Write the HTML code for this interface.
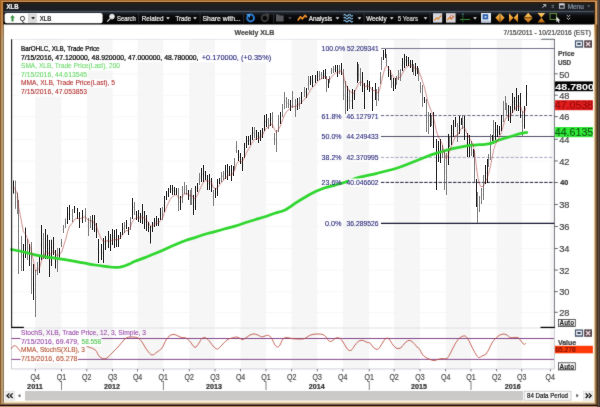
<!DOCTYPE html>
<html><head><meta charset="utf-8"><title>XLB</title>
<style>html,body{margin:0;padding:0;background:#fff;}svg{display:block;font-family:"Liberation Sans", sans-serif;}</style>
</head><body>
<svg width="600" height="407" viewBox="0 0 600 407">
<defs>
<filter id="soft" x="0" y="0" width="100%" height="100%" filterUnits="userSpaceOnUse" color-interpolation-filters="sRGB"><feConvolveMatrix order="3" kernelMatrix="0.015 0.065 0.015 0.065 0.68 0.065 0.015 0.065 0.015" divisor="1" edgeMode="duplicate" preserveAlpha="false"/></filter>
<linearGradient id="gold" x1="0" y1="0" x2="0" y2="1"><stop offset="0" stop-color="#ffd070"/><stop offset="0.5" stop-color="#f0a030"/><stop offset="1" stop-color="#b06010"/></linearGradient>
<linearGradient id="og" x1="0" y1="0" x2="0" y2="1"><stop offset="0" stop-color="#c06810" stop-opacity="0.6"/><stop offset="0.6" stop-color="#c06810" stop-opacity="0.35"/><stop offset="1" stop-color="#c06810" stop-opacity="0"/></linearGradient>
<linearGradient id="tb" x1="0" y1="0" x2="0" y2="1"><stop offset="0" stop-color="#28303a"/><stop offset="0.3" stop-color="#0c0c0e"/><stop offset="1" stop-color="#000"/></linearGradient>
</defs>

<g filter="url(#soft)">
<rect x="0" y="0" width="600" height="407" fill="#ffffff"/>
<rect x="0" y="0" width="600" height="1" fill="#a8682a"/>
<rect x="0" y="1" width="600" height="1" fill="#c89460"/>
<rect x="0" y="2" width="600" height="1" fill="#2a1000"/>
<rect x="3" y="3" width="592" height="8" fill="#1c1e22"/>
<rect x="3" y="3" width="592" height="1" fill="#2a2418"/>
<rect x="3" y="10.6" width="592" height="1.2" fill="#2e3a48"/>
<rect x="3" y="11.8" width="592" height="12.7" fill="url(#tb)"/>
<rect x="0" y="0" width="1" height="407" fill="#87592b"/>
<rect x="1" y="0" width="1" height="407" fill="#b9956b"/>
<rect x="2" y="1" width="1" height="406" fill="#bc9c76"/>
<rect x="3" y="2" width="1" height="403" fill="#8c7860"/>
<rect x="3" y="2" width="1" height="22.5" fill="#3a2010"/>
<rect x="4" y="24.5" width="1" height="377" fill="#fffef5"/>
<rect x="593" y="24.5" width="1" height="377" fill="#fffbe8"/>
<rect x="594" y="2" width="1" height="403" fill="#e0c398"/>
<rect x="595" y="1" width="1" height="405" fill="#a08058"/>
<rect x="596" y="0" width="1" height="407" fill="#725230"/>
<rect x="597" y="0" width="1" height="407" fill="#483418"/>
<rect x="598" y="0" width="1" height="407" fill="#5a4a40"/>
<rect x="599" y="0" width="1" height="407" fill="#443830"/>
<rect x="4" y="401" width="590" height="1.5" fill="#fff0d0"/>
<rect x="3" y="402.5" width="592" height="1" fill="#d0b888"/>
<rect x="2" y="403.3" width="594" height="1" fill="#a48c60"/>
<rect x="1" y="404.2" width="596" height="0.8" fill="#604030"/>
<rect x="0" y="405" width="597" height="1" fill="#200000"/>
<rect x="0" y="406" width="597" height="1" fill="#b89870"/>
<rect x="0" y="0" width="3" height="40" fill="url(#og)"/>
<rect x="594" y="0" width="3" height="40" fill="url(#og)"/>
<rect x="594" y="2" width="1" height="22.5" fill="#3a2010"/>
<rect x="595" y="1.5" width="1" height="23" fill="#c08848"/>
<rect x="596" y="1" width="1" height="23.5" fill="#d4a464"/>
<rect x="597" y="0" width="1" height="24.5" fill="#6a5040"/>
<rect x="0" y="0" width="596" height="1" fill="#a8682a"/>
<rect x="1" y="1" width="595" height="1" fill="#c89460"/>
<text x="6.60" y="9.40" font-size="7.5" fill="#ffffff" textLength="11.90" lengthAdjust="spacingAndGlyphs" font-weight="bold" stroke="#ffffff" stroke-width="0.22" >XLB</text>
<path d="M543,4.2 h3.2 v2.6 h-1 v-1.2 l-2.6,2.4 l-0.5,-0.5 l2.4,-2.4 h-1.5z" fill="#c8ccd4"/>
<rect x="551.6" y="5" width="2.4" height="0.8" fill="#8890a0"/><rect x="551.6" y="6.8" width="2.4" height="0.8" fill="#8890a0"/>
<rect x="559.4" y="3.8" width="4.8" height="4.4" fill="none" stroke="#d0d4dc" stroke-width="0.9"/><rect x="559.4" y="3.8" width="4.8" height="1.6" fill="#d0d4dc"/>
<text x="567.70" y="8.60" font-size="6.6" fill="#8896a8" textLength="16.00" lengthAdjust="spacingAndGlyphs" stroke="#8896a8" stroke-width="0.22" >Menu</text>
<path d="M587,5.3 h3.4 l-1.7,2.2z" fill="#5c6878"/>
<rect x="4.6" y="13" width="98" height="10.2" rx="2.2" fill="#ffffff"/>
<path d="M12.5,14.9 l2.3,2.9 h-1.3 v3.6 h-2 v-3.6 h-1.3z" fill="#2f8f3c"/>
<text x="19.90" y="20.50" font-size="7.2" fill="#000" textLength="5.00" lengthAdjust="spacingAndGlyphs" stroke="#000" stroke-width="0.15">Q</text>
<rect x="28.3" y="13.6" width="0.6" height="9" fill="#b0b0b0"/>
<rect x="29.6" y="14" width="7" height="8.4" fill="#dcdcdc" stroke="#b8b8b8" stroke-width="0.4"/>
<path d="M31.2,17 h3.8 l-1.9,2.6z" fill="#202020"/>
<text x="39.80" y="20.90" font-size="7" fill="#000" textLength="11.50" lengthAdjust="spacingAndGlyphs" stroke="#000" stroke-width="0.2">XLB</text>
<circle cx="112" cy="16.6" r="2.4" fill="#e8e8e8" stroke="#fff" stroke-width="0.7"/><path d="M110.2,18.6 l-3,3" stroke="#e0e0e0" stroke-width="1.3"/>
<text x="117.00" y="20.70" font-size="7" fill="#f0f0f0" textLength="18.80" lengthAdjust="spacingAndGlyphs" stroke="#f0f0f0" stroke-width="0.22" >Search</text>
<rect x="138.4" y="13.3" width="0.7" height="9.6" fill="#3c4046"/>
<text x="141.70" y="20.70" font-size="7" fill="#f0f0f0" textLength="21.80" lengthAdjust="spacingAndGlyphs" stroke="#f0f0f0" stroke-width="0.22" >Related</text>
<path d="M166.1,17.2 h3.8 l-1.9,2.3z" fill="#e8e8e8"/>
<text x="175.50" y="20.70" font-size="7" fill="#f0f0f0" textLength="15.50" lengthAdjust="spacingAndGlyphs" stroke="#f0f0f0" stroke-width="0.22" >Trade</text>
<path d="M193.1,17.2 h3.8 l-1.9,2.3z" fill="#e8e8e8"/>
<rect x="199.7" y="13.3" width="0.7" height="9.6" fill="#3c4046"/>
<text x="202.50" y="20.70" font-size="7" fill="#f0f0f0" textLength="38.20" lengthAdjust="spacingAndGlyphs" stroke="#f0f0f0" stroke-width="0.22" >Share with...</text>
<rect x="243.4" y="13.3" width="0.7" height="9.6" fill="#3c4046"/>
<circle cx="250.6" cy="18" r="3.4" fill="none" stroke="#2a7ad0" stroke-width="2"/><path d="M246,14 h4 v4z" fill="#4aa0f0"/>
<circle cx="264.8" cy="18" r="3.2" fill="none" stroke="#3a3a3a" stroke-width="1.9"/><path d="M265,13.5 h4 v4z" fill="#444"/>
<rect x="273.4" y="13.3" width="0.7" height="9.6" fill="#3c4046"/>
<path d="M276,14.6 h3 l0.8,1 h3.8 v6 h-7.6z" fill="#56585c"/>
<path d="M288.1,17.2 h3.8 l-1.9,2.3z" fill="#50545a"/>
<path d="M297.8,20.4 l2.6,-3.6 l2,2 l2.6,-3.4 l1.8,2" fill="none" stroke="#f0902c" stroke-width="1.7" stroke-linejoin="round"/>
<text x="308.70" y="20.70" font-size="7" fill="#f0f0f0" textLength="23.60" lengthAdjust="spacingAndGlyphs" stroke="#f0f0f0" stroke-width="0.22" >Analysis</text>
<path d="M335.6,17.2 h3.8 l-1.9,2.3z" fill="#e8e8e8"/>
<path d="M343.6,15.3 q1.2,-1.6 2.3,0 t2.3,0 t2.3,0 t2.3,0" fill="none" stroke="#8cc8f4" stroke-width="1.1"/>
<path d="M343.6,18.2 q1.2,-1.6 2.3,0 t2.3,0 t2.3,0 t2.3,0" fill="none" stroke="#8cc8f4" stroke-width="1.1"/>
<path d="M343.6,21.1 q1.2,-1.6 2.3,0 t2.3,0 t2.3,0 t2.3,0" fill="none" stroke="#8cc8f4" stroke-width="1.1"/>
<path d="M357.6,17.2 h3.8 l-1.9,2.3z" fill="#e8e8e8"/>
<rect x="363.7" y="13.3" width="0.7" height="9.6" fill="#3c4046"/>
<text x="366.20" y="20.70" font-size="7" fill="#f0f0f0" textLength="20.40" lengthAdjust="spacingAndGlyphs" stroke="#f0f0f0" stroke-width="0.22" >Weekly</text>
<path d="M389.8,17.2 h3.8 l-1.9,2.3z" fill="#e8e8e8"/>
<text x="397.70" y="20.70" font-size="7" fill="#d8d8d8" textLength="20.40" lengthAdjust="spacingAndGlyphs" stroke="#d8d8d8" stroke-width="0.22" >5 Years</text>
<path d="M423.6,17.2 h3.8 l-1.9,2.3z" fill="#e8e8e8"/>
<rect x="429.7" y="13.3" width="0.7" height="9.6" fill="#3c4046"/>
<rect x="433" y="13.2" width="9.2" height="9.4" fill="#d4d6e0"/><path d="M434.2,20.6 l2.4,-2.8 l1.6,1.4 l3,-3.8" fill="none" stroke="#e08828" stroke-width="1.2"/>
<rect x="446" y="13.2" width="9.6" height="9.4" fill="#d8d4d8"/><path d="M447.2,20 l2.4,-2.4 l1.6,1.6 l3,-3.6" fill="none" stroke="#e08828" stroke-width="1.1"/><circle cx="451.6" cy="17" r="1.5" fill="none" stroke="#c05050" stroke-width="0.6"/>
<rect x="460" y="19" width="10" height="0.9" fill="#40a040"/><rect x="462.4" y="13.4" width="0.9" height="9" fill="#2a6a2a"/><rect x="462" y="13.6" width="2" height="0.8" fill="#5080c0"/>
<path d="M473.1,17.2 h3.8 l-1.9,2.3z" fill="#e8e8e8"/>
<rect x="481" y="13" width="10" height="9.6" fill="#e8ecf4"/><rect x="482.6" y="14.2" width="5.6" height="5.2" fill="#2a62b0"/><rect x="484.6" y="16" width="1.8" height="1.6" fill="#e8ecf4"/><rect x="481" y="20.6" width="10" height="2" fill="#b8c4d8"/>
<path d="M495.4,17.8 l4.3,-4.6 v9.2z M504.6,17.8 l-4.3,-4.6 v9.2z" fill="url(#gold)"/>
<path d="M509,13.2 l4.4,4.6 l-4.4,4.6z M518,13.2 l-4.4,4.6 l4.4,4.6z" fill="url(#gold)"/>
<path d="M528.2,12.8 l4.4,4.6 h-8.8z M528.2,22.8 l4.4,-4.6 h-8.8z" fill="url(#gold)"/>
<path d="M537.6,13 h7.6 l-3.8,4.8z M537.6,22.6 h7.6 l-3.8,-4.8z" fill="url(#gold)"/>
<rect x="550" y="13.4" width="6.4" height="6" fill="none" stroke="#6a9a3a" stroke-width="0.9"/>
<path d="M556.4,16.6 l0,5.6 l1.3,-1.3 l1,2 l0.9,-0.5 l-1,-1.9 h1.8z" fill="#e8e8e8"/>
<path d="M566.8,15 l1.7,1.7 l1.7,-1.7 M566.8,17.8 l1.7,1.7 l1.7,-1.7" fill="none" stroke="#e0e0e0" stroke-width="0.9"/>
<rect x="35.3" y="39.3" width="26.1" height="329.7" fill="#f6f6f6"/>
<rect x="86.8" y="39.3" width="25.8" height="329.7" fill="#f6f6f6"/>
<rect x="137.6" y="39.3" width="25.7" height="329.7" fill="#f6f6f6"/>
<rect x="189.3" y="39.3" width="25.7" height="329.7" fill="#f6f6f6"/>
<rect x="240.6" y="39.3" width="25.4" height="329.7" fill="#f6f6f6"/>
<rect x="291.7" y="39.3" width="25.6" height="329.7" fill="#f6f6f6"/>
<rect x="342.8" y="39.3" width="26.4" height="329.7" fill="#f6f6f6"/>
<rect x="394.1" y="39.3" width="25.9" height="329.7" fill="#f6f6f6"/>
<rect x="445.7" y="39.3" width="25.3" height="329.7" fill="#f6f6f6"/>
<rect x="496.7" y="39.3" width="25.1" height="329.7" fill="#f6f6f6"/>
<rect x="550.3" y="39.3" width="3.7" height="329.7" fill="#f6f6f6"/>
<rect x="11.4" y="73.6" width="543.0" height="0.8" fill="#f5f5f6"/>
<rect x="11.4" y="94.9" width="543.0" height="0.8" fill="#f5f5f6"/>
<rect x="11.4" y="116.4" width="543.0" height="0.8" fill="#f5f5f6"/>
<rect x="11.4" y="139.0" width="543.0" height="0.8" fill="#f5f5f6"/>
<rect x="11.4" y="160.7" width="543.0" height="0.8" fill="#f5f5f6"/>
<rect x="11.4" y="182.2" width="543.0" height="0.8" fill="#f5f5f6"/>
<rect x="11.4" y="204.2" width="543.0" height="0.8" fill="#f5f5f6"/>
<rect x="11.4" y="226.2" width="543.0" height="0.8" fill="#f5f5f6"/>
<rect x="11.4" y="248.2" width="543.0" height="0.8" fill="#f5f5f6"/>
<rect x="11.4" y="269.8" width="543.0" height="0.8" fill="#f5f5f6"/>
<rect x="11.4" y="291.4" width="543.0" height="0.8" fill="#f5f5f6"/>
<rect x="11.4" y="312.0" width="543.0" height="0.8" fill="#f5f5f6"/>
<rect x="11.4" y="38.9" width="543.0" height="0.9" fill="#e2e4ea"/>
<rect x="553.9499999999999" y="39.0" width="0.9" height="288.2" fill="#686c72"/>
<rect x="553.9499999999999" y="327.5" width="0.9" height="41.5" fill="#c4c8d0"/>
<rect x="541.3" y="38.8" width="13.4" height="0.9" fill="#585c62"/>
<rect x="11.4" y="327.6" width="543.0" height="0.8" fill="#d8dce4"/>
<rect x="11.0" y="328" width="0.9" height="41" fill="#c4c8d0"/>
<rect x="11.4" y="368.5" width="543.0" height="0.9" fill="#c8ccd4"/>
<path d="M381,48.5 H554.4" stroke="#74748e" stroke-width="1.0" fill="none"/>
<path d="M381,115.5 H554.4" stroke="#68688a" stroke-width="1.0" stroke-dasharray="3.1,1.7" fill="none"/>
<path d="M381,136.5 H554.4" stroke="#505068" stroke-width="1.0" fill="none"/>
<path d="M381,157.4 H554.4" stroke="#a4a4c0" stroke-width="1.0" stroke-dasharray="3.1,1.7" fill="none"/>
<path d="M381,182.4 H554.4" stroke="#101030" stroke-width="0.95" stroke-dasharray="3.4,1.4" fill="none"/>
<path d="M381,223.4 H554.4" stroke="#141430" stroke-width="1.25" fill="none"/>
</g>
<path d="M13.5,180.5V193.6M23.5,244.0V271.0M25.5,227.6V258.0M29.5,244.0V266.0M33.5,264.0V300.0M39.5,256.0V273.0M41.5,225.0V260.0M45.5,229.0V259.0M47.5,234.7V259.0M49.5,240.0V277.0M51.5,239.7V266.0M53.5,237.0V255.0M55.5,250.0V268.5M59.5,248.0V257.5M67.5,207.0V224.0M69.5,205.0V220.0M74.5,206.0V213.0M77.5,208.0V219.0M79.5,212.0V228.0M82.5,210.0V223.0M92.5,215.0V230.0M94.5,215.0V232.0M96.5,223.0V238.0M98.5,239.0V263.0M101.5,244.0V260.0M103.5,238.0V263.0M105.5,236.0V250.0M108.5,231.0V248.0M110.5,234.0V251.0M112.5,229.0V245.0M114.5,230.0V248.0M116.5,229.0V247.0M118.5,235.0V247.0M120.5,232.0V239.0M122.5,223.0V235.0M126.5,220.0V229.0M128.5,227.0V235.0M132.5,198.0V219.0M136.5,211.0V220.0M138.5,210.0V222.0M140.5,213.0V223.0M142.5,204.0V224.0M144.5,211.0V229.0M146.5,215.0V231.0M148.5,222.0V232.0M150.5,226.0V243.5M152.5,222.0V232.0M154.5,218.0V227.0M156.5,216.0V226.0M158.5,218.0V226.0M160.5,208.0V220.0M164.5,196.0V212.0M166.5,191.0V200.0M168.5,188.0V197.0M170.5,185.0V193.0M172.5,185.0V195.0M174.5,187.0V195.0M176.5,188.0V195.0M180.5,196.0V210.0M188.5,190.0V200.0M193.5,195.0V215.0M195.5,186.0V210.0M197.5,183.0V192.0M201.5,168.0V182.0M203.5,165.0V182.0M205.5,171.0V180.0M207.5,175.0V190.0M209.5,174.0V190.0M211.5,178.0V192.0M215.5,188.0V198.0M217.5,179.0V196.0M219.5,178.0V184.0M225.5,165.0V179.0M227.5,164.0V180.0M229.5,166.0V176.0M231.5,165.0V181.0M233.5,166.0V176.0M238.5,150.0V161.0M240.5,153.0V164.0M242.5,157.0V171.0M244.5,143.0V158.0M246.5,136.0V148.0M248.5,136.0V145.0M250.5,135.0V145.0M252.5,127.0V140.0M256.5,130.0V140.0M258.5,132.0V143.0M260.5,130.0V141.0M262.5,128.0V138.0M264.5,115.0V131.0M266.5,114.0V127.0M270.5,113.0V126.0M280.5,112.0V124.0M290.5,100.0V111.0M297.5,98.0V110.0M301.5,92.0V104.0M306.5,88.0V98.0M310.5,76.0V85.0M312.5,75.0V87.0M315.5,75.0V83.0M317.5,71.0V81.0M323.5,70.0V79.0M325.5,69.0V79.0M328.5,79.0V88.0M335.5,65.0V72.0M337.5,65.0V77.0M341.5,63.0V75.0M347.5,86.0V111.0M352.5,89.0V109.0M354.5,90.0V100.0M357.5,62.0V83.0M362.5,72.0V92.0M364.5,83.0V109.0M367.5,80.0V90.0M369.5,81.0V92.0M372.5,87.0V111.0M375.5,83.0V100.0M383.5,50.0V60.0M385.5,49.0V58.0M388.5,66.0V77.0M390.5,70.0V80.0M393.5,78.0V91.0M395.5,78.0V89.0M402.5,58.0V71.0M404.5,54.0V68.0M406.5,56.0V66.0M408.5,57.0V66.0M410.5,60.0V68.0M412.5,60.0V72.0M415.5,63.0V76.0M417.5,66.0V74.0M424.5,97.0V103.0M430.5,113.0V127.0M433.5,112.0V148.0M436.5,139.0V190.0M438.5,141.0V162.0M440.5,139.0V163.0M448.5,134.0V165.0M451.5,125.0V145.0M453.5,120.0V137.0M455.5,117.0V127.0M459.5,116.0V134.0M461.5,118.0V125.0M464.5,116.0V140.0M467.5,133.0V157.0M469.5,135.0V157.0M473.5,149.0V157.0M476.5,179.0V207.0M485.5,165.0V184.0M487.5,159.0V183.0M492.5,135.0V141.0M495.5,122.0V140.0M497.5,125.0V137.0M499.5,126.0V135.0M501.5,115.0V131.0M508.5,105.0V121.0M510.5,106.0V123.0M512.5,93.0V113.0M514.5,97.0V110.0M516.5,88.0V111.0M518.5,95.0V111.0M520.5,93.0V118.0M524.5,106.0V128.8M526.5,85.0V106.0" stroke="#000" stroke-width="0.86" fill="none"/>
<path d="M15.5,180.5V208.8M17.5,192.6V214.0M18.5,200.0V274.0M21.5,236.0V271.0M27.5,239.0V260.0M31.5,242.0V294.0M35.5,270.0V317.0M37.5,262.0V275.0M43.5,233.0V259.0M57.5,248.0V272.0M61.5,239.0V247.0M63.5,225.0V233.0M65.5,218.5V228.0M72.5,209.0V222.0M85.5,208.0V222.0M88.5,218.0V236.0M90.5,216.0V228.0M124.5,222.0V233.0M130.5,217.0V230.0M134.5,202.0V215.0M162.5,207.0V220.0M178.5,188.0V211.0M182.5,186.0V203.0M184.5,182.0V194.0M186.5,185.0V195.0M190.5,190.0V205.0M191.5,188.0V205.0M199.5,173.0V185.0M213.5,190.0V206.0M221.5,172.0V182.0M223.5,171.0V180.0M234.5,158.0V170.0M236.5,141.0V153.0M254.5,127.0V138.0M268.5,118.0V129.0M272.5,112.0V128.0M274.5,133.0V145.0M276.5,130.0V152.0M278.5,115.0V132.0M282.5,104.0V117.0M284.5,92.0V109.0M286.5,97.0V108.0M288.5,99.0V108.0M292.5,91.0V108.0M295.5,99.0V117.0M299.5,97.0V109.0M304.5,87.0V97.0M308.5,76.0V90.0M319.5,71.0V80.0M321.5,72.0V79.0M326.5,76.0V92.0M329.5,76.0V83.0M331.5,68.0V74.0M333.5,66.0V73.0M339.5,65.0V74.0M343.5,69.0V100.0M345.5,81.0V114.0M349.5,90.0V109.0M358.5,64.0V81.0M360.5,68.0V86.0M376.5,89.0V106.0M378.5,87.0V101.0M380.5,72.0V84.0M381.5,57.0V70.0M386.5,54.0V66.0M391.5,75.0V88.0M396.5,76.0V85.0M398.5,70.0V80.0M400.5,69.0V81.0M413.5,64.0V75.0M418.5,68.0V81.0M420.5,82.0V93.0M422.5,85.0V107.0M426.5,99.0V132.0M428.5,112.0V134.0M431.5,115.0V126.0M442.5,145.0V158.0M444.5,150.0V190.0M446.5,153.0V195.0M449.5,136.0V147.0M457.5,123.0V142.0M462.5,115.0V129.0M471.5,141.0V156.0M474.5,150.0V183.0M477.5,192.0V223.0M479.5,196.0V212.0M481.5,188.0V204.0M483.5,175.0V200.0M488.5,154.0V167.0M490.5,134.0V160.0M493.5,120.0V144.0M503.5,101.0V122.0M505.5,96.0V110.0M506.5,103.0V116.0M522.5,111.0V136.0" stroke="#6c6c6c" stroke-width="0.86" fill="none"/>
<g filter="url(#soft)">
<path d="M14.0,187.1h0.6M13.0,187.1h-0.6M16.0,196.9h0.6M15.0,192.4h-0.6M18.0,205.0h0.6M17.0,201.6h-0.6M19.0,242.9h0.6M18.0,231.1h-0.6M22.0,256.3h0.6M21.0,250.7h-0.6M24.0,259.7h0.6M23.0,255.3h-0.6M26.0,240.4h0.6M25.0,245.2h-0.6M28.0,251.2h0.6M27.0,247.8h-0.6M30.0,256.8h0.6M29.0,253.2h-0.6M32.0,272.2h0.6M31.0,263.8h-0.6M34.0,284.9h0.6M33.0,279.1h-0.6M36.0,297.3h0.6M35.0,289.7h-0.6M38.0,267.5h0.6M37.0,269.5h-0.6M40.0,263.1h0.6M39.0,265.9h-0.6M42.0,239.7h0.6M41.0,245.3h-0.6M44.0,248.1h0.6M43.0,243.9h-0.6M46.0,241.6h0.6M45.0,246.4h-0.6M48.0,248.8h0.6M47.0,244.9h-0.6M50.0,261.5h0.6M49.0,255.5h-0.6M52.0,250.7h0.6M51.0,255.0h-0.6M54.0,244.6h0.6M53.0,247.4h-0.6M56.0,260.7h0.6M55.0,257.8h-0.6M58.0,261.9h0.6M57.0,258.1h-0.6M60.0,252.0h0.6M59.0,253.5h-0.6M62.0,242.4h0.6M61.0,243.6h-0.6M64.0,228.4h0.6M63.0,229.6h-0.6M66.0,222.5h0.6M65.0,224.0h-0.6M68.0,214.1h0.6M67.0,216.9h-0.6M70.0,211.3h0.6M69.0,213.7h-0.6M73.0,216.5h0.6M72.0,214.5h-0.6M75.0,208.9h0.6M74.0,210.1h-0.6M78.0,214.4h0.6M77.0,212.6h-0.6M80.0,221.3h0.6M79.0,218.7h-0.6M83.0,215.5h0.6M82.0,217.5h-0.6M86.0,213.9h0.6M85.0,216.1h-0.6M89.0,228.4h0.6M88.0,225.6h-0.6M91.0,221.0h0.6M90.0,223.0h-0.6M93.0,223.7h0.6M92.0,221.3h-0.6M95.0,224.9h0.6M94.0,222.1h-0.6M97.0,231.7h0.6M96.0,229.3h-0.6M99.0,252.9h0.6M98.0,249.1h-0.6M102.0,253.3h0.6M101.0,250.7h-0.6M104.0,248.5h0.6M103.0,252.5h-0.6M106.0,241.9h0.6M105.0,244.1h-0.6M109.0,238.1h0.6M108.0,240.9h-0.6M111.0,243.9h0.6M110.0,241.1h-0.6M113.0,235.7h0.6M112.0,238.3h-0.6M115.0,240.4h0.6M114.0,237.6h-0.6M117.0,236.6h0.6M116.0,239.4h-0.6M119.0,242.0h0.6M118.0,240.0h-0.6M121.0,234.9h0.6M120.0,236.1h-0.6M123.0,228.0h0.6M122.0,230.0h-0.6M125.0,226.6h0.6M124.0,228.4h-0.6M127.0,223.8h0.6M126.0,225.2h-0.6M129.0,231.6h0.6M128.0,230.4h-0.6M131.0,222.5h0.6M130.0,224.5h-0.6M133.0,206.8h0.6M132.0,210.2h-0.6M135.0,209.5h0.6M134.0,207.5h-0.6M137.0,216.2h0.6M136.0,214.8h-0.6M139.0,217.0h0.6M138.0,215.0h-0.6M141.0,218.8h0.6M140.0,217.2h-0.6M143.0,212.4h0.6M142.0,215.6h-0.6M145.0,221.4h0.6M144.0,218.6h-0.6M147.0,224.3h0.6M146.0,221.7h-0.6M149.0,227.8h0.6M148.0,226.2h-0.6M151.0,236.2h0.6M150.0,233.3h-0.6M153.0,226.2h0.6M152.0,227.8h-0.6M155.0,221.8h0.6M154.0,223.2h-0.6M157.0,220.2h0.6M156.0,221.8h-0.6M159.0,222.6h0.6M158.0,221.4h-0.6M161.0,213.0h0.6M160.0,215.0h-0.6M163.0,212.5h0.6M162.0,214.5h-0.6M165.0,202.7h0.6M164.0,205.3h-0.6M167.0,194.8h0.6M166.0,196.2h-0.6M169.0,191.8h0.6M168.0,193.2h-0.6M171.0,188.4h0.6M170.0,189.6h-0.6M173.0,190.8h0.6M172.0,189.2h-0.6M175.0,191.6h0.6M174.0,190.4h-0.6M177.0,192.1h0.6M176.0,190.9h-0.6M179.0,201.3h0.6M178.0,197.7h-0.6M181.0,204.1h0.6M180.0,201.9h-0.6M183.0,193.1h0.6M182.0,195.9h-0.6M185.0,187.0h0.6M184.0,189.0h-0.6M187.0,190.8h0.6M186.0,189.2h-0.6M189.0,195.8h0.6M188.0,194.2h-0.6M191.0,198.7h0.6M190.0,196.3h-0.6M192.0,195.1h0.6M191.0,197.9h-0.6M194.0,206.6h0.6M193.0,203.4h-0.6M196.0,196.1h0.6M195.0,199.9h-0.6M198.0,186.8h0.6M197.0,188.2h-0.6M200.0,178.0h0.6M199.0,180.0h-0.6M202.0,173.9h0.6M201.0,176.1h-0.6M204.0,172.1h0.6M203.0,174.9h-0.6M206.0,176.2h0.6M205.0,174.8h-0.6M208.0,183.7h0.6M207.0,181.3h-0.6M210.0,180.7h0.6M209.0,183.3h-0.6M212.0,186.1h0.6M211.0,183.9h-0.6M214.0,199.3h0.6M213.0,196.7h-0.6M216.0,192.2h0.6M215.0,193.8h-0.6M218.0,186.1h0.6M217.0,188.9h-0.6M220.0,180.5h0.6M219.0,181.5h-0.6M222.0,176.2h0.6M221.0,177.8h-0.6M224.0,174.8h0.6M223.0,176.2h-0.6M226.0,170.9h0.6M225.0,173.1h-0.6M228.0,173.3h0.6M227.0,170.7h-0.6M230.0,170.2h0.6M229.0,171.8h-0.6M232.0,174.3h0.6M231.0,171.7h-0.6M234.0,170.2h0.6M233.0,171.8h-0.6M235.0,163.0h0.6M234.0,165.0h-0.6M237.0,146.0h0.6M236.0,148.0h-0.6M239.0,156.4h0.6M238.0,154.6h-0.6M241.0,159.4h0.6M240.0,157.6h-0.6M243.0,165.1h0.6M242.0,162.9h-0.6M245.0,149.3h0.6M244.0,151.7h-0.6M247.0,141.0h0.6M246.0,143.0h-0.6M249.0,139.8h0.6M248.0,141.2h-0.6M251.0,139.2h0.6M250.0,140.8h-0.6M253.0,132.5h0.6M252.0,134.5h-0.6M255.0,131.6h0.6M254.0,133.4h-0.6M257.0,135.8h0.6M256.0,134.2h-0.6M259.0,138.4h0.6M258.0,136.6h-0.6M261.0,134.6h0.6M260.0,136.4h-0.6M263.0,132.2h0.6M262.0,133.8h-0.6M265.0,121.7h0.6M264.0,124.3h-0.6M267.0,119.5h0.6M266.0,121.5h-0.6M269.0,124.4h0.6M268.0,122.6h-0.6M271.0,118.5h0.6M270.0,120.5h-0.6M273.0,121.3h0.6M272.0,118.7h-0.6M275.0,140.0h0.6M274.0,138.0h-0.6M277.0,142.8h0.6M276.0,139.2h-0.6M279.0,122.1h0.6M278.0,124.9h-0.6M281.0,117.0h0.6M280.0,119.0h-0.6M283.0,109.5h0.6M282.0,111.5h-0.6M285.0,99.1h0.6M284.0,101.9h-0.6M287.0,103.4h0.6M286.0,101.6h-0.6M289.0,104.2h0.6M288.0,102.8h-0.6M291.0,106.4h0.6M290.0,104.6h-0.6M293.0,98.1h0.6M292.0,100.9h-0.6M296.0,109.4h0.6M295.0,106.6h-0.6M298.0,103.0h0.6M297.0,105.0h-0.6M300.0,102.0h0.6M299.0,104.0h-0.6M302.0,97.0h0.6M301.0,99.0h-0.6M305.0,91.2h0.6M304.0,92.8h-0.6M307.0,93.8h0.6M306.0,92.2h-0.6M309.0,81.9h0.6M308.0,84.1h-0.6M311.0,79.8h0.6M310.0,81.2h-0.6M313.0,82.0h0.6M312.0,80.0h-0.6M316.0,78.4h0.6M315.0,79.6h-0.6M318.0,75.2h0.6M317.0,76.8h-0.6M320.0,74.8h0.6M319.0,76.2h-0.6M322.0,76.1h0.6M321.0,74.9h-0.6M324.0,73.8h0.6M323.0,75.2h-0.6M326.0,73.2h0.6M325.0,74.8h-0.6M327.0,85.3h0.6M326.0,82.7h-0.6M329.0,82.8h0.6M328.0,84.2h-0.6M330.0,78.9h0.6M329.0,80.1h-0.6M332.0,70.5h0.6M331.0,71.5h-0.6M334.0,68.9h0.6M333.0,70.1h-0.6M336.0,67.9h0.6M335.0,69.1h-0.6M338.0,72.0h0.6M337.0,70.0h-0.6M340.0,68.8h0.6M339.0,70.2h-0.6M342.0,68.0h0.6M341.0,70.0h-0.6M344.0,87.0h0.6M343.0,82.0h-0.6M346.0,100.1h0.6M345.0,94.9h-0.6M348.0,100.5h0.6M347.0,96.5h-0.6M350.0,101.0h0.6M349.0,98.0h-0.6M353.0,97.4h0.6M352.0,100.6h-0.6M355.0,94.2h0.6M354.0,95.8h-0.6M358.0,70.8h0.6M357.0,74.2h-0.6M359.0,73.9h0.6M358.0,71.1h-0.6M361.0,78.4h0.6M360.0,75.6h-0.6M363.0,83.6h0.6M362.0,80.4h-0.6M365.0,98.1h0.6M364.0,93.9h-0.6M368.0,84.2h0.6M367.0,85.8h-0.6M370.0,87.4h0.6M369.0,85.6h-0.6M373.0,100.9h0.6M372.0,97.1h-0.6M376.0,90.1h0.6M375.0,92.9h-0.6M377.0,98.9h0.6M376.0,96.1h-0.6M379.0,92.9h0.6M378.0,95.1h-0.6M381.0,77.0h0.6M380.0,79.0h-0.6M382.0,62.5h0.6M381.0,64.5h-0.6M384.0,54.2h0.6M383.0,55.8h-0.6M386.0,52.8h0.6M385.0,54.2h-0.6M387.0,61.0h0.6M386.0,59.0h-0.6M389.0,72.4h0.6M388.0,70.6h-0.6M391.0,75.8h0.6M390.0,74.2h-0.6M392.0,82.5h0.6M391.0,80.5h-0.6M394.0,85.5h0.6M393.0,83.5h-0.6M396.0,82.6h0.6M395.0,84.4h-0.6M397.0,79.8h0.6M396.0,81.2h-0.6M399.0,74.2h0.6M398.0,75.8h-0.6M401.0,76.0h0.6M400.0,74.0h-0.6M403.0,63.5h0.6M402.0,65.5h-0.6M405.0,59.9h0.6M404.0,62.1h-0.6M407.0,61.8h0.6M406.0,60.2h-0.6M409.0,62.2h0.6M408.0,60.8h-0.6M411.0,64.6h0.6M410.0,63.4h-0.6M413.0,67.0h0.6M412.0,65.0h-0.6M414.0,70.4h0.6M413.0,68.6h-0.6M416.0,70.5h0.6M415.0,68.5h-0.6M418.0,70.6h0.6M417.0,69.4h-0.6M419.0,75.5h0.6M418.0,73.5h-0.6M421.0,88.4h0.6M420.0,86.6h-0.6M423.0,97.8h0.6M422.0,94.2h-0.6M425.0,100.5h0.6M424.0,99.5h-0.6M427.0,118.1h0.6M426.0,112.9h-0.6M429.0,124.8h0.6M428.0,121.2h-0.6M431.0,118.9h0.6M430.0,121.1h-0.6M432.0,121.4h0.6M431.0,119.6h-0.6M434.0,132.9h0.6M433.0,127.1h-0.6M437.0,168.6h0.6M436.0,160.4h-0.6M439.0,149.8h0.6M438.0,153.2h-0.6M441.0,149.1h0.6M440.0,152.9h-0.6M443.0,152.5h0.6M442.0,150.5h-0.6M445.0,173.2h0.6M444.0,166.8h-0.6M447.0,177.4h0.6M446.0,170.6h-0.6M449.0,147.0h0.6M448.0,152.0h-0.6M450.0,140.6h0.6M449.0,142.4h-0.6M452.0,133.4h0.6M451.0,136.6h-0.6M454.0,127.1h0.6M453.0,129.9h-0.6M456.0,121.2h0.6M455.0,122.8h-0.6M458.0,134.0h0.6M457.0,131.0h-0.6M460.0,123.6h0.6M459.0,126.4h-0.6M462.0,120.9h0.6M461.0,122.1h-0.6M463.0,123.1h0.6M462.0,120.9h-0.6M465.0,129.9h0.6M464.0,126.1h-0.6M468.0,146.9h0.6M467.0,143.1h-0.6M470.0,147.8h0.6M469.0,144.2h-0.6M472.0,149.7h0.6M471.0,147.3h-0.6M474.0,153.6h0.6M473.0,152.4h-0.6M475.0,169.1h0.6M474.0,163.9h-0.6M477.0,195.2h0.6M476.0,190.8h-0.6M478.0,210.0h0.6M477.0,205.0h-0.6M480.0,202.7h0.6M479.0,205.3h-0.6M482.0,194.7h0.6M481.0,197.3h-0.6M484.0,185.5h0.6M483.0,189.5h-0.6M486.0,173.0h0.6M485.0,176.0h-0.6M488.0,169.1h0.6M487.0,172.9h-0.6M489.0,159.5h0.6M488.0,161.5h-0.6M491.0,144.9h0.6M490.0,149.1h-0.6M493.0,137.5h0.6M492.0,138.5h-0.6M494.0,130.1h0.6M493.0,133.9h-0.6M496.0,129.6h0.6M495.0,132.4h-0.6M498.0,132.0h0.6M497.0,130.0h-0.6M500.0,129.8h0.6M499.0,131.2h-0.6M502.0,121.7h0.6M501.0,124.3h-0.6M504.0,109.8h0.6M503.0,113.2h-0.6M506.0,101.9h0.6M505.0,104.1h-0.6M507.0,110.5h0.6M506.0,108.5h-0.6M509.0,114.3h0.6M508.0,111.7h-0.6M511.0,115.9h0.6M510.0,113.1h-0.6M513.0,101.4h0.6M512.0,104.6h-0.6M515.0,104.5h0.6M514.0,102.5h-0.6M517.0,97.7h0.6M516.0,101.3h-0.6M519.0,104.3h0.6M518.0,101.7h-0.6M521.0,107.5h0.6M520.0,103.5h-0.6M523.0,125.5h0.6M522.0,121.5h-0.6M525.0,115.6h0.6M524.0,119.2h-0.6M527.0,93.8h0.6M526.0,97.2h-0.6" stroke="#333" stroke-width="0.5" fill="none" opacity="0.5"/>
<path d="M11.6,249.5C13.8,250.0 21.1,251.4 25.0,252.3C28.9,253.2 31.7,254.1 35.0,254.8C38.3,255.5 41.7,256.1 45.0,256.7C48.3,257.3 51.7,257.7 55.0,258.2C58.3,258.7 61.7,259.2 65.0,259.7C68.3,260.2 71.7,260.8 75.0,261.4C78.3,262.0 81.7,262.6 85.0,263.2C88.3,263.8 91.7,264.5 95.0,265.0C98.3,265.5 102.5,266.0 105.0,266.3C107.5,266.6 108.3,266.8 110.0,267.0C111.7,267.2 113.3,267.3 115.0,267.3C116.7,267.3 118.3,267.4 120.0,267.2C121.7,266.9 123.3,266.4 125.0,265.8C126.7,265.2 128.3,264.4 130.0,263.7C131.7,262.9 132.5,262.3 135.0,261.3C137.5,260.3 141.7,258.9 145.0,257.6C148.3,256.3 151.7,255.0 155.0,253.6C158.3,252.2 161.7,250.7 165.0,249.2C168.3,247.7 171.7,246.2 175.0,244.8C178.3,243.4 181.7,241.9 185.0,240.7C188.3,239.5 191.7,238.7 195.0,237.6C198.3,236.5 201.7,235.2 205.0,234.2C208.3,233.2 211.7,232.5 215.0,231.6C218.3,230.7 221.7,229.7 225.0,228.8C228.3,227.9 231.7,227.1 235.0,226.1C238.3,225.1 241.7,223.9 245.0,222.8C248.3,221.7 251.7,220.7 255.0,219.7C258.3,218.7 261.7,217.8 265.0,216.7C268.3,215.6 272.3,214.1 275.0,213.2C277.7,212.3 279.2,212.1 281.0,211.5C282.8,210.9 284.4,210.2 286.0,209.4C287.6,208.6 289.0,207.6 290.5,206.6C292.0,205.6 292.6,205.0 295.0,203.4C297.4,201.8 301.7,199.1 305.0,197.2C308.3,195.2 311.7,193.3 315.0,191.7C318.3,190.1 321.7,188.8 325.0,187.7C328.3,186.6 331.7,186.0 335.0,185.1C338.3,184.2 341.0,183.5 345.0,182.2C349.0,180.9 353.7,178.9 359.0,177.4C364.3,175.9 371.0,174.7 377.0,173.3C383.0,171.9 390.3,170.2 395.0,168.8C399.7,167.5 401.7,166.5 405.0,165.2C408.3,163.9 411.7,162.5 415.0,161.2C418.3,159.9 421.7,158.6 425.0,157.3C428.3,156.0 431.7,154.7 435.0,153.6C438.3,152.5 441.7,151.6 445.0,150.7C448.3,149.8 451.4,148.9 455.0,148.1C458.6,147.3 463.4,146.3 466.7,145.8C470.0,145.3 471.9,145.3 475.0,145.1C478.1,144.8 482.3,144.6 485.0,144.3C487.7,144.0 489.3,143.7 491.0,143.3C492.7,142.9 493.5,142.3 495.0,141.7C496.5,141.1 497.5,140.5 500.0,139.7C502.5,138.9 506.7,137.7 510.0,136.7C513.3,135.7 517.2,134.3 520.0,133.6C522.8,132.9 525.7,132.7 526.8,132.5" fill="none" stroke="#2ed62e" stroke-width="2.75" stroke-linecap="round" stroke-linejoin="round"/>
<path d="M13.5,187.1 L15.3,189.8 L17.4,194.0 L18.8,207.6 L21.4,221.1 L23.4,231.8 L25.6,234.2 L27.5,238.9 L29.4,243.9 L31.5,251.7 L33.5,260.9 L35.5,271.0 L37.5,270.0 L39.5,268.1 L41.7,260.2 L43.5,256.9 L45.3,252.6 L47.3,251.6 L49.2,254.3 L51.2,253.3 L53.4,250.9 L55.5,253.6 L57.4,255.9 L59.5,254.8 L61.9,251.4 L63.9,245.0 L65.9,238.7 L67.5,231.9 L69.5,226.2 L72.0,223.5 L74.5,219.5 L77.0,218.0 L79.0,218.9 L82.0,218.0 L85.0,216.8 L88.0,220.1 L90.0,220.3 L92.0,221.3 L94.0,222.3 L96.0,224.9 L98.6,232.7 L101.0,238.4 L103.0,241.2 L105.0,241.4 L108.0,240.5 L110.0,241.4 L112.5,239.8 L114.5,240.0 L116.0,239.0 L118.0,239.9 L120.0,238.5 L122.0,235.6 L124.0,233.1 L126.0,230.5 L128.0,230.8 L130.0,228.5 L132.0,222.5 L134.0,218.9 L136.0,218.1 L138.0,217.8 L140.0,218.1 L142.0,216.5 L144.0,217.9 L146.0,219.7 L148.0,221.9 L150.3,225.9 L152.0,226.0 L154.0,224.8 L156.0,223.5 L158.0,223.3 L160.6,220.4 L162.6,218.2 L164.0,213.9 L166.0,208.6 L168.0,203.9 L170.0,199.6 L172.0,197.2 L174.0,195.6 L176.0,194.6 L178.0,196.5 L180.0,198.6 L182.0,197.1 L184.0,194.3 L186.0,193.3 L188.0,194.0 L190.0,195.3 L191.6,195.3 L193.6,198.4 L195.6,197.8 L197.6,194.7 L199.6,190.1 L201.6,185.6 L203.6,181.8 L205.6,180.3 L207.6,181.2 L209.6,181.1 L211.6,182.5 L213.0,187.2 L215.0,188.6 L217.0,187.9 L219.0,185.8 L221.0,183.2 L223.0,180.8 L225.0,178.1 L227.0,176.7 L229.0,174.9 L231.0,174.7 L233.0,173.5 L234.6,170.6 L236.6,163.8 L238.6,161.7 L240.6,161.1 L242.0,162.2 L244.0,158.6 L246.0,153.7 L248.0,149.9 L250.0,146.9 L252.0,142.9 L254.0,139.8 L256.0,138.7 L258.0,138.6 L260.0,137.5 L262.0,136.0 L264.0,132.0 L266.0,128.5 L268.0,127.4 L270.0,124.9 L272.0,123.9 L274.0,128.4 L276.4,132.4 L278.4,129.5 L280.4,126.1 L282.0,121.4 L284.4,115.2 L286.4,112.0 L288.4,109.8 L290.0,108.9 L292.0,105.9 L295.0,106.9 L297.0,105.8 L299.0,104.8 L301.4,102.6 L304.0,99.4 L306.0,97.9 L308.6,93.4 L310.6,89.6 L312.6,87.5 L315.0,85.0 L317.0,82.3 L319.0,80.2 L321.0,79.0 L323.0,77.6 L325.0,76.4 L326.4,78.8 L328.0,79.9 L329.6,79.7 L331.4,77.1 L333.4,74.8 L335.4,72.9 L337.4,72.7 L339.4,71.6 L341.4,70.6 L343.4,75.1 L345.0,82.1 L347.0,87.2 L349.5,91.0 L352.0,92.8 L354.0,93.2 L357.0,87.0 L358.6,83.3 L360.4,82.0 L362.0,82.4 L364.4,86.8 L367.0,86.1 L369.4,86.4 L372.4,90.5 L375.0,90.4 L376.4,92.7 L378.4,92.8 L380.0,88.4 L381.6,81.2 L383.4,73.7 L385.0,67.9 L386.4,66.0 L388.0,67.7 L390.0,70.0 L391.4,73.5 L393.0,76.8 L395.0,78.4 L396.6,78.8 L398.6,77.5 L400.4,77.1 L402.4,73.3 L404.4,69.6 L406.0,67.4 L408.0,66.0 L410.0,65.6 L412.0,66.0 L413.6,67.2 L415.4,68.1 L417.0,68.8 L418.6,70.7 L420.6,75.6 L422.6,81.8 L424.4,87.0 L426.4,95.6 L428.4,103.7 L430.0,107.9 L431.6,111.7 L433.6,117.6 L436.5,131.7 L438.4,136.8 L440.4,140.2 L442.0,143.6 L444.0,151.8 L446.4,158.9 L448.0,155.6 L449.4,151.5 L451.4,146.4 L453.4,141.1 L455.6,135.6 L457.4,135.1 L459.4,131.9 L461.0,128.9 L462.6,127.3 L464.4,128.0 L467.0,133.3 L469.0,137.3 L471.0,140.7 L473.0,144.3 L474.4,151.2 L476.0,163.4 L477.6,176.4 L479.4,183.7 L481.0,186.8 L483.0,186.4 L485.0,182.7 L487.0,178.9 L488.6,173.5 L490.6,165.6 L492.0,157.8 L493.6,150.1 L495.4,144.4 L497.4,140.9 L499.0,137.8 L501.0,133.4 L503.0,126.8 L505.0,119.9 L506.4,117.3 L508.4,116.5 L510.4,116.3 L512.4,112.2 L514.4,110.0 L516.4,106.6 L518.4,106.0 L520.4,106.4 L522.4,111.7 L524.4,112.8 L526.0,107.5" fill="none" stroke="#a83030" stroke-width="0.55" stroke-linejoin="round"/>
<text x="321.60" y="51.40" font-size="6.6" fill="#26267a" textLength="23.50" lengthAdjust="spacingAndGlyphs" stroke="#26267a" stroke-width="0.1" >100.0%</text>
<text x="346.90" y="51.40" font-size="6.6" fill="#26267a" textLength="32.00" lengthAdjust="spacingAndGlyphs" stroke="#26267a" stroke-width="0.1" >52.209341</text>
<rect x="348.6" y="112.2" width="31" height="8.2" fill="#fff"/>
<text x="321.60" y="118.60" font-size="6.6" fill="#26267a" textLength="20.00" lengthAdjust="spacingAndGlyphs" stroke="#26267a" stroke-width="0.1" >61.8%</text>
<text x="346.60" y="118.60" font-size="6.6" fill="#26267a" textLength="32.00" lengthAdjust="spacingAndGlyphs" stroke="#26267a" stroke-width="0.1" >46.127971</text>
<rect x="348.6" y="132.2" width="31" height="8.2" fill="#fff"/>
<text x="321.60" y="138.60" font-size="6.6" fill="#26267a" textLength="20.00" lengthAdjust="spacingAndGlyphs" stroke="#26267a" stroke-width="0.1" >50.0%</text>
<text x="346.60" y="138.60" font-size="6.6" fill="#26267a" textLength="32.00" lengthAdjust="spacingAndGlyphs" stroke="#26267a" stroke-width="0.1" >44.249433</text>
<rect x="348.6" y="153.4" width="31" height="8.2" fill="#fff"/>
<text x="321.60" y="159.80" font-size="6.6" fill="#26267a" textLength="20.00" lengthAdjust="spacingAndGlyphs" stroke="#26267a" stroke-width="0.1" >38.2%</text>
<text x="346.60" y="159.80" font-size="6.6" fill="#26267a" textLength="32.00" lengthAdjust="spacingAndGlyphs" stroke="#26267a" stroke-width="0.1" >42.370995</text>
<rect x="348.6" y="178.5" width="31" height="8.2" fill="#fff"/>
<text x="321.60" y="184.90" font-size="6.6" fill="#26267a" textLength="20.00" lengthAdjust="spacingAndGlyphs" stroke="#26267a" stroke-width="0.1" >23.6%</text>
<text x="346.60" y="184.90" font-size="6.6" fill="#26267a" textLength="32.00" lengthAdjust="spacingAndGlyphs" stroke="#26267a" stroke-width="0.1" >40.046602</text>
<text x="325.00" y="225.80" font-size="6.6" fill="#26267a" textLength="16.60" lengthAdjust="spacingAndGlyphs" stroke="#26267a" stroke-width="0.1" >0.0%</text>
<text x="346.60" y="225.80" font-size="6.6" fill="#26267a" textLength="32.00" lengthAdjust="spacingAndGlyphs" stroke="#26267a" stroke-width="0.1" >36.289526</text>
<rect x="11.15" y="39.3" width="1.0" height="288.6" fill="#000"/>
<rect x="11.15" y="326.8" width="12.7" height="1.25" fill="#000"/>
<rect x="540.5" y="326.8" width="14.4" height="1.25" fill="#000"/>
<rect x="20.5" y="45" width="79.0" height="8.6" fill="#fff"/>
<rect x="20.5" y="53.6" width="251.0" height="8.6" fill="#fff"/>
<rect x="20.5" y="62.2" width="100.0" height="8.5" fill="#fff"/>
<rect x="20.5" y="70.7" width="67.0" height="8.6" fill="#fff"/>
<rect x="20.5" y="79.3" width="95.0" height="8.7" fill="#fff"/>
<rect x="20.5" y="88" width="67.0" height="8.6" fill="#fff"/>
<text x="21.00" y="50.90" font-size="6.7" fill="#000" textLength="78.60" lengthAdjust="spacingAndGlyphs" stroke="#000" stroke-width="0.22" >BarOHLC, XLB, Trade Price</text>
<text x="21.00" y="59.60" font-size="6.7" fill="#000" textLength="177.50" lengthAdjust="spacingAndGlyphs" stroke="#000" stroke-width="0.22" >7/15/2016, 47.120000, 48.920000, 47.000000, 48.780000,</text>
<text x="201.70" y="59.60" font-size="6.7" fill="#22227a" textLength="69.50" lengthAdjust="spacingAndGlyphs" stroke="#22227a" stroke-width="0.1" >+0.170000, (+0.35%)</text>
<text x="21.00" y="68.00" font-size="6.7" fill="#66d866" textLength="99.00" lengthAdjust="spacingAndGlyphs" stroke="#66d866" stroke-width="0.08" >SMA, XLB, Trade Price(Last),  200</text>
<text x="21.00" y="76.60" font-size="6.7" fill="#62d662" textLength="66.00" lengthAdjust="spacingAndGlyphs" stroke="#62d662" stroke-width="0.08" >7/15/2016, 44.613545</text>
<text x="21.00" y="85.40" font-size="6.7" fill="#b02828" textLength="94.00" lengthAdjust="spacingAndGlyphs" stroke="#b02828" stroke-width="0.08" >MMA, XLB, Trade Price(Last),  5</text>
<text x="21.00" y="94.00" font-size="6.7" fill="#b02828" textLength="66.00" lengthAdjust="spacingAndGlyphs" stroke="#b02828" stroke-width="0.08" >7/15/2016, 47.053853</text>
<text x="234.40" y="35.00" font-size="7.2" fill="#484848" textLength="40.00" lengthAdjust="spacingAndGlyphs" font-weight="bold" stroke="#484848" stroke-width="0.22" >Weekly XLB</text>
<text x="503.60" y="35.00" font-size="6.6" fill="#484848" textLength="87.40" lengthAdjust="spacingAndGlyphs" stroke="#484848" stroke-width="0.22" >7/15/2011 - 10/21/2016 (EST)</text>
<rect x="574.9" y="40.3" width="8.2" height="7.4" fill="#485870"/><rect x="576.1" y="41.599999999999994" width="5.8" height="4.6" fill="#f4f6fa"/><rect x="577.3" y="42.9" width="3.4" height="2" fill="#384860"/>
<rect x="584.2" y="40.3" width="7.8" height="7.4" fill="#54444c"/><path d="M586,41.9 l4.2,4.2 M590.2,41.9 l-4.2,4.2" stroke="#f0d8dc" stroke-width="1.4"/>
<text x="557.90" y="56.20" font-size="7.2" fill="#404040" textLength="16.60" lengthAdjust="spacingAndGlyphs" font-weight="bold" stroke="#404040" stroke-width="0.22" >Price</text>
<text x="557.90" y="65.20" font-size="7.2" fill="#404040" textLength="13.20" lengthAdjust="spacingAndGlyphs" font-weight="bold" stroke="#404040" stroke-width="0.22" >USD</text>
<rect x="554.4" y="73.4" width="3.4" height="0.9" fill="#50545a"/>
<text x="559.20" y="77.50" font-size="9.6" fill="#484848" textLength="10.30" lengthAdjust="spacingAndGlyphs" stroke="#484848" stroke-width="0.22" >50</text>
<rect x="554.4" y="94.7" width="3.4" height="0.9" fill="#50545a"/>
<text x="559.20" y="98.80" font-size="9.6" fill="#484848" textLength="10.30" lengthAdjust="spacingAndGlyphs" stroke="#484848" stroke-width="0.22" >48</text>
<rect x="554.4" y="116.2" width="3.4" height="0.9" fill="#50545a"/>
<text x="559.20" y="120.30" font-size="9.6" fill="#484848" textLength="10.30" lengthAdjust="spacingAndGlyphs" stroke="#484848" stroke-width="0.22" >46</text>
<rect x="554.4" y="138.8" width="3.4" height="0.9" fill="#50545a"/>
<text x="559.20" y="142.90" font-size="9.6" fill="#484848" textLength="10.30" lengthAdjust="spacingAndGlyphs" stroke="#484848" stroke-width="0.22" >44</text>
<rect x="554.4" y="160.5" width="3.4" height="0.9" fill="#50545a"/>
<text x="559.20" y="164.60" font-size="9.6" fill="#484848" textLength="10.30" lengthAdjust="spacingAndGlyphs" stroke="#484848" stroke-width="0.22" >42</text>
<rect x="554.4" y="182.0" width="3.4" height="0.9" fill="#50545a"/>
<text x="560.30" y="185.20" font-size="6.8" fill="#303030" textLength="8.00" lengthAdjust="spacingAndGlyphs" font-weight="bold" stroke="#303030" stroke-width="0.22" >40</text>
<rect x="554.4" y="204.0" width="3.4" height="0.9" fill="#50545a"/>
<text x="559.20" y="208.10" font-size="9.6" fill="#484848" textLength="10.30" lengthAdjust="spacingAndGlyphs" stroke="#484848" stroke-width="0.22" >38</text>
<rect x="554.4" y="226.0" width="3.4" height="0.9" fill="#50545a"/>
<text x="559.20" y="230.10" font-size="9.6" fill="#484848" textLength="10.30" lengthAdjust="spacingAndGlyphs" stroke="#484848" stroke-width="0.22" >36</text>
<rect x="554.4" y="248.0" width="3.4" height="0.9" fill="#50545a"/>
<text x="559.20" y="252.10" font-size="9.6" fill="#484848" textLength="10.30" lengthAdjust="spacingAndGlyphs" stroke="#484848" stroke-width="0.22" >34</text>
<rect x="554.4" y="269.6" width="3.4" height="0.9" fill="#50545a"/>
<text x="559.20" y="273.70" font-size="9.6" fill="#484848" textLength="10.30" lengthAdjust="spacingAndGlyphs" stroke="#484848" stroke-width="0.22" >32</text>
<rect x="554.4" y="291.2" width="3.4" height="0.9" fill="#50545a"/>
<text x="559.20" y="295.30" font-size="9.6" fill="#484848" textLength="10.30" lengthAdjust="spacingAndGlyphs" stroke="#484848" stroke-width="0.22" >30</text>
<rect x="554.4" y="311.8" width="3.4" height="0.9" fill="#50545a"/>
<text x="559.20" y="315.90" font-size="9.6" fill="#484848" textLength="10.30" lengthAdjust="spacingAndGlyphs" stroke="#484848" stroke-width="0.22" >28</text>
<rect x="554.9" y="81.4" width="38" height="9.8" fill="#000"/>
<svg x="554.9" y="81.4" width="38" height="9.8" overflow="hidden">
<text x="0.40" y="8.50" font-size="9.8" fill="#ffffff" textLength="38.60" lengthAdjust="spacingAndGlyphs" font-weight="bold" stroke="#ffffff" stroke-width="0.1" >48.7800</text>
</svg>
<rect x="554.9" y="100.2" width="38" height="10" fill="#e01c1c"/>
<svg x="554.9" y="100.2" width="38" height="10" overflow="hidden">
<text x="-0.20" y="8.80" font-size="10" fill="#940c0c" textLength="38.60" lengthAdjust="spacingAndGlyphs" stroke="#940c0c" stroke-width="0.1" >47.0538</text>
</svg>
<rect x="554.9" y="127" width="38" height="10.2" fill="#32e83a"/>
<svg x="554.9" y="127" width="38" height="10.2" overflow="hidden">
<text x="-0.20" y="8.90" font-size="10" fill="#0e5a12" textLength="38.60" lengthAdjust="spacingAndGlyphs" stroke="#0e5a12" stroke-width="0.1" >44.6135</text>
</svg>
<rect x="558.4" y="319.4" width="16.9" height="7.1" fill="#ffffff" stroke="#383838" stroke-width="0.8"/>
<text x="559.60" y="325.30" font-size="6.7" fill="#202020" textLength="14.40" lengthAdjust="spacingAndGlyphs" font-weight="bold" stroke="#202020" stroke-width="0.1" >Auto</text>
<rect x="559.6" y="325.5" width="14.4" height="0.55" fill="#202020"/>
<path d="M11.4,338.5 H554.0" stroke="#84488e" stroke-width="1.0" fill="none"/>
<path d="M11.4,359.4 H554.0" stroke="#84488e" stroke-width="1.0" fill="none"/>
<path d="M11.3,348.8C11.6,348.3 12.6,346.5 13.3,346.0C14.1,345.5 15.0,345.5 15.8,346.0C16.6,346.5 17.5,347.8 18.3,348.8C19.1,349.8 19.9,350.7 20.8,352.0C21.8,353.3 22.8,355.2 24.0,356.5C25.2,357.8 26.7,358.9 28.0,359.5C29.3,360.1 30.5,360.5 32.0,360.0C33.5,359.5 35.3,358.2 37.0,356.5C38.7,354.8 40.3,352.0 42.0,350.0C43.7,348.0 45.5,345.6 47.0,344.5C48.5,343.4 49.7,343.2 51.0,343.5C52.3,343.8 53.7,345.9 55.0,346.0C56.3,346.1 57.5,344.8 59.0,344.0C60.5,343.2 62.2,342.1 64.0,341.5C65.8,340.9 68.0,340.7 70.0,340.5C72.0,340.3 74.0,340.2 76.0,340.5C78.0,340.8 80.1,341.5 82.0,342.5C83.9,343.5 85.9,345.8 87.5,346.7C89.1,347.6 90.3,347.4 91.7,348.0C93.1,348.6 94.6,349.2 95.8,350.5C97.0,351.8 97.8,354.6 99.0,356.0C100.2,357.4 101.7,358.3 103.0,358.6C104.3,358.9 105.5,358.9 107.0,358.0C108.5,357.1 110.2,354.8 112.0,353.0C113.8,351.2 116.2,349.0 118.0,347.0C119.8,345.0 121.5,342.6 123.0,341.0C124.5,339.4 125.3,338.3 127.0,337.6C128.7,336.9 131.2,336.9 133.0,337.0C134.8,337.1 136.5,337.2 138.0,338.0C139.5,338.8 140.5,340.0 142.0,342.0C143.5,344.0 145.3,347.8 147.0,350.0C148.7,352.2 150.3,354.7 152.0,355.0C153.7,355.3 155.3,353.2 157.0,352.0C158.7,350.8 160.5,350.0 162.0,348.0C163.5,346.0 164.7,342.1 166.0,340.0C167.3,337.9 168.7,336.5 170.0,335.6C171.3,334.7 172.7,334.3 174.0,334.4C175.3,334.5 176.7,335.5 178.0,336.0C179.3,336.5 180.7,337.3 182.0,337.6C183.3,337.9 184.7,337.4 186.0,338.0C187.3,338.6 188.5,339.9 190.0,341.5C191.5,343.1 193.5,347.1 195.0,347.4C196.5,347.6 197.8,344.5 199.0,343.0C200.2,341.5 200.8,339.2 202.0,338.4C203.2,337.6 204.7,337.4 206.0,338.0C207.3,338.6 208.7,340.5 210.0,342.0C211.3,343.5 212.7,345.8 214.0,347.0C215.3,348.2 216.3,349.3 217.6,349.0C218.9,348.7 220.4,346.5 222.0,345.0C223.6,343.5 225.3,341.2 227.0,340.0C228.7,338.8 230.3,338.5 232.0,338.0C233.7,337.5 235.5,336.8 237.0,337.0C238.5,337.2 240.0,338.6 241.0,339.0C242.0,339.4 242.0,339.9 243.0,339.6C244.0,339.3 245.7,337.8 247.0,337.0C248.3,336.2 249.7,335.1 251.0,334.6C252.3,334.1 253.7,333.8 255.0,334.0C256.3,334.2 257.8,335.1 259.0,335.6C260.2,336.1 260.8,337.0 262.0,337.0C263.2,337.0 264.8,335.8 266.0,335.6C267.2,335.4 268.0,335.0 269.0,335.6C270.0,336.2 271.0,337.4 272.0,339.0C273.0,340.6 274.1,343.7 275.0,345.0C275.9,346.3 276.6,347.0 277.4,347.0C278.2,347.0 279.1,346.3 280.0,345.0C280.9,343.7 281.8,340.2 283.0,339.0C284.2,337.8 285.5,337.7 287.0,337.6C288.5,337.5 290.2,338.4 292.0,338.6C293.8,338.8 296.0,339.0 298.0,339.0C300.0,339.0 302.3,339.2 304.0,338.8C305.7,338.4 306.7,337.1 308.0,336.4C309.3,335.7 310.3,335.0 312.0,334.6C313.7,334.2 316.2,334.0 318.0,334.0C319.8,334.0 321.7,334.1 323.0,334.6C324.3,335.1 325.0,335.9 326.0,337.0C327.0,338.1 328.0,340.3 329.0,341.0C330.0,341.7 330.8,341.5 332.0,341.0C333.2,340.5 334.7,338.4 336.0,338.0C337.3,337.6 338.8,337.7 340.0,338.4C341.2,339.1 342.0,340.6 343.0,342.0C344.0,343.4 345.0,345.6 346.0,347.0C347.0,348.4 348.0,350.0 349.0,350.4C350.0,350.8 351.0,350.5 352.0,349.6C353.0,348.7 353.8,346.4 355.0,345.0C356.2,343.6 357.7,341.8 359.0,341.0C360.3,340.2 361.7,340.2 363.0,340.4C364.3,340.6 365.8,342.0 367.0,342.4C368.2,342.8 369.0,342.2 370.0,343.0C371.0,343.8 371.8,345.9 373.0,347.0C374.2,348.1 375.8,349.4 377.0,349.4C378.2,349.4 379.0,348.2 380.0,347.0C381.0,345.8 382.0,343.4 383.0,342.0C384.0,340.6 385.0,338.9 386.0,338.4C387.0,337.9 387.8,337.9 389.0,339.0C390.2,340.1 391.7,343.4 393.0,345.0C394.3,346.6 395.7,348.0 397.0,348.4C398.3,348.8 399.7,348.5 401.0,347.6C402.3,346.7 403.7,344.2 405.0,343.0C406.3,341.8 407.7,340.5 409.0,340.4C410.3,340.3 411.7,341.3 413.0,342.4C414.3,343.5 415.8,345.8 417.0,347.0C418.2,348.2 419.2,348.4 420.0,349.6C420.8,350.8 421.0,352.7 422.0,354.0C423.0,355.3 424.7,356.7 426.0,357.6C427.3,358.5 428.7,358.9 430.0,359.4C431.3,359.9 432.7,360.6 434.0,360.6C435.3,360.6 436.7,359.7 438.0,359.4C439.3,359.1 440.5,358.8 442.0,358.6C443.5,358.4 445.7,359.2 447.0,358.4C448.3,357.6 449.0,355.7 450.0,354.0C451.0,352.3 451.8,350.2 453.0,348.0C454.2,345.8 455.7,342.8 457.0,341.0C458.3,339.2 459.7,337.8 461.0,337.0C462.3,336.2 463.8,335.7 465.0,336.0C466.2,336.3 467.0,337.5 468.0,339.0C469.0,340.5 470.0,343.0 471.0,345.0C472.0,347.0 473.0,349.2 474.0,351.0C475.0,352.8 476.2,354.9 477.0,356.0C477.8,357.1 478.2,357.6 479.0,357.6C479.8,357.6 480.8,356.6 482.0,356.0C483.2,355.4 484.8,355.2 486.0,354.0C487.2,352.8 488.0,350.8 489.0,349.0C490.0,347.2 491.0,344.7 492.0,343.0C493.0,341.3 493.8,340.2 495.0,339.0C496.2,337.8 497.7,336.4 499.0,335.6C500.3,334.8 501.7,334.1 503.0,334.0C504.3,333.9 505.8,334.4 507.0,335.0C508.2,335.6 508.8,337.2 510.0,337.6C511.2,338.0 512.7,337.6 514.0,337.6C515.3,337.6 516.8,337.0 518.0,337.6C519.2,338.2 520.0,339.9 521.0,341.0C522.0,342.1 523.2,344.1 524.0,344.4C524.8,344.7 525.7,343.2 526.0,343.0" fill="none" stroke="#b84030" stroke-width="0.8"/>
<rect x="20.5" y="337.6" width="81.0" height="8.4" fill="#fff"/>
<rect x="20.5" y="346" width="65.0" height="8.3" fill="#fff"/>
<rect x="20.5" y="354.3" width="57.5" height="8.7" fill="#fff"/>
<text x="21.00" y="334.90" font-size="6.7" fill="#9440a4" textLength="125.00" lengthAdjust="spacingAndGlyphs" stroke="#9440a4" stroke-width="0.08" >StochS, XLB, Trade Price,  12, 3, Simple, 3</text>
<text x="21.00" y="343.60" font-size="6.7" fill="#9440a4" textLength="58.00" lengthAdjust="spacingAndGlyphs" stroke="#9440a4" stroke-width="0.08" >7/15/2016, 69.479,</text>
<text x="81.60" y="343.60" font-size="6.7" fill="#48c048" textLength="19.60" lengthAdjust="spacingAndGlyphs" stroke="#48c048" stroke-width="0.08" >58.558</text>
<text x="21.00" y="352.00" font-size="6.7" fill="#b04828" textLength="64.00" lengthAdjust="spacingAndGlyphs" stroke="#b04828" stroke-width="0.08" >MMA, StochS(XLB),  3</text>
<text x="21.00" y="361.20" font-size="6.7" fill="#b04828" textLength="56.50" lengthAdjust="spacingAndGlyphs" stroke="#b04828" stroke-width="0.08" >7/15/2016, 65.278</text>
<rect x="574.9" y="329.4" width="8.2" height="7.4" fill="#485870"/><rect x="576.1" y="330.7" width="5.8" height="4.6" fill="#f4f6fa"/><rect x="577.3" y="332.0" width="3.4" height="2" fill="#384860"/>
<rect x="584.2" y="329.4" width="7.8" height="7.4" fill="#54444c"/><path d="M586,331.0 l4.2,4.2 M590.2,331.0 l-4.2,4.2" stroke="#f0d8dc" stroke-width="1.4"/>
<text x="557.90" y="345.20" font-size="7.3" fill="#383838" textLength="18.40" lengthAdjust="spacingAndGlyphs" font-weight="bold" stroke="#383838" stroke-width="0.22" >Value</text>
<rect x="554.9" y="345.8" width="38" height="7.5" fill="#ff3a08"/>
<text x="555.20" y="352.10" font-size="6.8" fill="#7a1000" textLength="20.50" lengthAdjust="spacingAndGlyphs" stroke="#7a1000" stroke-width="0.22" >65.278</text>
<rect x="558.4" y="362.8" width="16.9" height="7.1" fill="#ffffff" stroke="#383838" stroke-width="0.8"/>
<text x="559.60" y="368.70" font-size="6.7" fill="#202020" textLength="14.40" lengthAdjust="spacingAndGlyphs" font-weight="bold" stroke="#202020" stroke-width="0.1" >Auto</text>
<rect x="559.6" y="368.90000000000003" width="14.4" height="0.55" fill="#202020"/>
<rect x="34.9" y="369" width="0.8" height="2.4" fill="#606060"/>
<text x="35.30" y="380.20" font-size="8.2" fill="#505050" textLength="9.40" lengthAdjust="spacingAndGlyphs" text-anchor="middle" stroke="#505050" stroke-width="0.22" >Q4</text>
<rect x="61.0" y="369" width="0.8" height="2.4" fill="#606060"/>
<text x="61.40" y="380.20" font-size="8.2" fill="#505050" textLength="9.40" lengthAdjust="spacingAndGlyphs" text-anchor="middle" stroke="#505050" stroke-width="0.22" >Q1</text>
<rect x="86.4" y="369" width="0.8" height="2.4" fill="#606060"/>
<text x="86.80" y="380.20" font-size="8.2" fill="#505050" textLength="9.40" lengthAdjust="spacingAndGlyphs" text-anchor="middle" stroke="#505050" stroke-width="0.22" >Q2</text>
<rect x="112.2" y="369" width="0.8" height="2.4" fill="#606060"/>
<text x="112.60" y="380.20" font-size="8.2" fill="#505050" textLength="9.40" lengthAdjust="spacingAndGlyphs" text-anchor="middle" stroke="#505050" stroke-width="0.22" >Q3</text>
<rect x="137.2" y="369" width="0.8" height="2.4" fill="#606060"/>
<text x="137.60" y="380.20" font-size="8.2" fill="#505050" textLength="9.40" lengthAdjust="spacingAndGlyphs" text-anchor="middle" stroke="#505050" stroke-width="0.22" >Q4</text>
<rect x="162.9" y="369" width="0.8" height="2.4" fill="#606060"/>
<text x="163.30" y="380.20" font-size="8.2" fill="#505050" textLength="9.40" lengthAdjust="spacingAndGlyphs" text-anchor="middle" stroke="#505050" stroke-width="0.22" >Q1</text>
<rect x="188.9" y="369" width="0.8" height="2.4" fill="#606060"/>
<text x="189.30" y="380.20" font-size="8.2" fill="#505050" textLength="9.40" lengthAdjust="spacingAndGlyphs" text-anchor="middle" stroke="#505050" stroke-width="0.22" >Q2</text>
<rect x="214.6" y="369" width="0.8" height="2.4" fill="#606060"/>
<text x="215.00" y="380.20" font-size="8.2" fill="#505050" textLength="9.40" lengthAdjust="spacingAndGlyphs" text-anchor="middle" stroke="#505050" stroke-width="0.22" >Q3</text>
<rect x="240.2" y="369" width="0.8" height="2.4" fill="#606060"/>
<text x="240.60" y="380.20" font-size="8.2" fill="#505050" textLength="9.40" lengthAdjust="spacingAndGlyphs" text-anchor="middle" stroke="#505050" stroke-width="0.22" >Q4</text>
<rect x="265.6" y="369" width="0.8" height="2.4" fill="#606060"/>
<text x="266.00" y="380.20" font-size="8.2" fill="#505050" textLength="9.40" lengthAdjust="spacingAndGlyphs" text-anchor="middle" stroke="#505050" stroke-width="0.22" >Q1</text>
<rect x="291.3" y="369" width="0.8" height="2.4" fill="#606060"/>
<text x="291.70" y="380.20" font-size="8.2" fill="#505050" textLength="9.40" lengthAdjust="spacingAndGlyphs" text-anchor="middle" stroke="#505050" stroke-width="0.22" >Q2</text>
<rect x="316.9" y="369" width="0.8" height="2.4" fill="#606060"/>
<text x="317.30" y="380.20" font-size="8.2" fill="#505050" textLength="9.40" lengthAdjust="spacingAndGlyphs" text-anchor="middle" stroke="#505050" stroke-width="0.22" >Q3</text>
<rect x="342.4" y="369" width="0.8" height="2.4" fill="#606060"/>
<text x="342.80" y="380.20" font-size="8.2" fill="#505050" textLength="9.40" lengthAdjust="spacingAndGlyphs" text-anchor="middle" stroke="#505050" stroke-width="0.22" >Q4</text>
<rect x="368.8" y="369" width="0.8" height="2.4" fill="#606060"/>
<text x="369.20" y="380.20" font-size="8.2" fill="#505050" textLength="9.40" lengthAdjust="spacingAndGlyphs" text-anchor="middle" stroke="#505050" stroke-width="0.22" >Q1</text>
<rect x="393.7" y="369" width="0.8" height="2.4" fill="#606060"/>
<text x="394.10" y="380.20" font-size="8.2" fill="#505050" textLength="9.40" lengthAdjust="spacingAndGlyphs" text-anchor="middle" stroke="#505050" stroke-width="0.22" >Q2</text>
<rect x="419.6" y="369" width="0.8" height="2.4" fill="#606060"/>
<text x="420.00" y="380.20" font-size="8.2" fill="#505050" textLength="9.40" lengthAdjust="spacingAndGlyphs" text-anchor="middle" stroke="#505050" stroke-width="0.22" >Q3</text>
<rect x="445.3" y="369" width="0.8" height="2.4" fill="#606060"/>
<text x="445.70" y="380.20" font-size="8.2" fill="#505050" textLength="9.40" lengthAdjust="spacingAndGlyphs" text-anchor="middle" stroke="#505050" stroke-width="0.22" >Q4</text>
<rect x="470.6" y="369" width="0.8" height="2.4" fill="#606060"/>
<text x="471.00" y="380.20" font-size="8.2" fill="#505050" textLength="9.40" lengthAdjust="spacingAndGlyphs" text-anchor="middle" stroke="#505050" stroke-width="0.22" >Q1</text>
<rect x="496.3" y="369" width="0.8" height="2.4" fill="#606060"/>
<text x="496.70" y="380.20" font-size="8.2" fill="#505050" textLength="9.40" lengthAdjust="spacingAndGlyphs" text-anchor="middle" stroke="#505050" stroke-width="0.22" >Q2</text>
<rect x="521.4" y="369" width="0.8" height="2.4" fill="#606060"/>
<text x="521.80" y="380.20" font-size="8.2" fill="#505050" textLength="9.40" lengthAdjust="spacingAndGlyphs" text-anchor="middle" stroke="#505050" stroke-width="0.22" >Q3</text>
<rect x="549.9" y="369" width="0.8" height="2.4" fill="#606060"/>
<text x="550.30" y="380.20" font-size="8.2" fill="#505050" textLength="9.40" lengthAdjust="spacingAndGlyphs" text-anchor="middle" stroke="#505050" stroke-width="0.22" >Q4</text>
<rect x="61.0" y="381" width="0.8" height="9" fill="#606060"/>
<rect x="162.9" y="381" width="0.8" height="9" fill="#606060"/>
<rect x="265.6" y="381" width="0.8" height="9" fill="#606060"/>
<rect x="368.8" y="381" width="0.8" height="9" fill="#606060"/>
<rect x="470.6" y="381" width="0.8" height="9" fill="#606060"/>
<text x="35.00" y="388.90" font-size="7" fill="#303030" textLength="15.80" lengthAdjust="spacingAndGlyphs" font-weight="bold" text-anchor="middle" stroke="#303030" stroke-width="0.22" >2011</text>
<text x="112.00" y="388.90" font-size="7" fill="#303030" textLength="15.80" lengthAdjust="spacingAndGlyphs" font-weight="bold" text-anchor="middle" stroke="#303030" stroke-width="0.22" >2012</text>
<text x="214.00" y="388.90" font-size="7" fill="#303030" textLength="15.80" lengthAdjust="spacingAndGlyphs" font-weight="bold" text-anchor="middle" stroke="#303030" stroke-width="0.22" >2013</text>
<text x="316.70" y="388.90" font-size="7" fill="#303030" textLength="15.80" lengthAdjust="spacingAndGlyphs" font-weight="bold" text-anchor="middle" stroke="#303030" stroke-width="0.22" >2014</text>
<text x="419.00" y="388.90" font-size="7" fill="#303030" textLength="15.80" lengthAdjust="spacingAndGlyphs" font-weight="bold" text-anchor="middle" stroke="#303030" stroke-width="0.22" >2015</text>
<text x="512.70" y="388.90" font-size="7" fill="#303030" textLength="15.80" lengthAdjust="spacingAndGlyphs" font-weight="bold" text-anchor="middle" stroke="#303030" stroke-width="0.22" >2016</text>
<rect x="25" y="391" width="498" height="9.6" fill="#cbc9c7"/>
<rect x="5.2" y="391.2" width="9.2" height="9" fill="#f0f0f0" stroke="#d0d0d0" stroke-width="0.5"/>
<path d="M9.4,393.4 l-2.4,2.3 l2.4,2.3 M12.6,393.4 l-2.4,2.3 l2.4,2.3" fill="none" stroke="#101010" stroke-width="1.3"/>
<path d="M20.4,394 v3.6 l-2.4,-1.8z" fill="#505050"/>
<rect x="524.2" y="391.2" width="46.8" height="9" fill="#fafafa" stroke="#b8b8b8" stroke-width="0.7"/>
<text x="527.00" y="398.20" font-size="6.4" fill="#202020" textLength="41.00" lengthAdjust="spacingAndGlyphs" stroke="#202020" stroke-width="0.22" >84 Data Period</text>
<path d="M576.4,393.8 v3.6 l2.2,-1.8z" fill="#404040"/>
<rect x="583.6" y="391.2" width="9.2" height="9" fill="#f0f0f0" stroke="#d0d0d0" stroke-width="0.5"/>
<path d="M585.6,393.4 l2.4,2.3 l-2.4,2.3 M588.8,393.4 l2.4,2.3 l-2.4,2.3" fill="none" stroke="#101010" stroke-width="1.3"/>
</g>
</svg></body></html>
